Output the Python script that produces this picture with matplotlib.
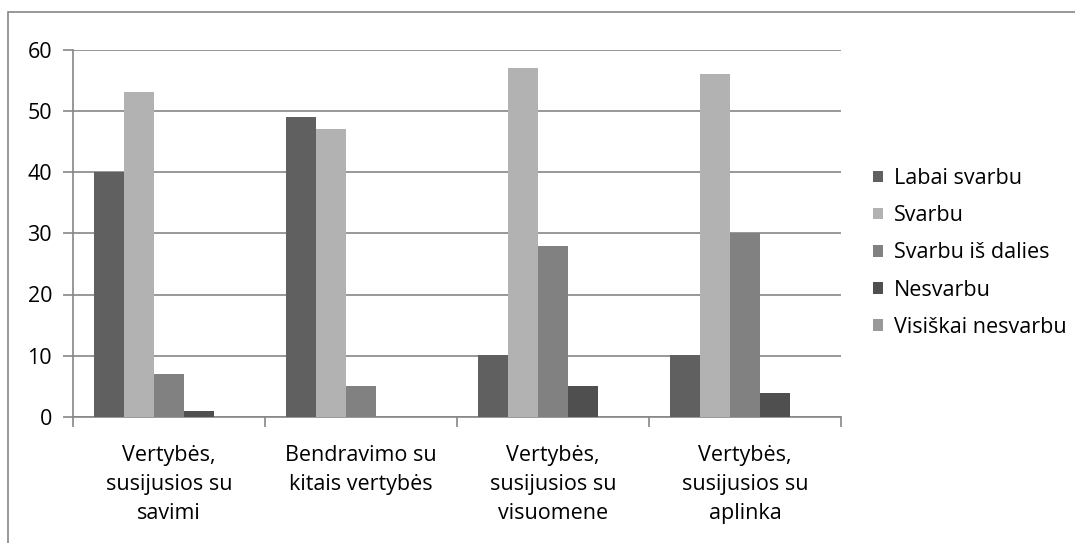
import matplotlib
matplotlib.use("Agg")
import matplotlib.pyplot as plt
from matplotlib.patches import Rectangle
import numpy as np

plt.rcParams['font.family'] = ['Open Sans', 'DejaVu Sans']

categories = ["Vertybės,\nsusijusios su\nsavimi",
              "Bendravimo su\nkitais vertybės",
              "Vertybės,\nsusijusios su\nvisuomene",
              "Vertybės,\nsusijusios su\naplinka"]
series_names = ["Labai svarbu", "Svarbu", "Svarbu iš dalies", "Nesvarbu", "Visiškai nesvarbu"]
labai_svarbu = [40, 49, 10.2, 10.2]
svarbu = [53, 47, 57, 56]
svarbu_is_dalies = [7, 5, 28, 30]
nesvarbu = [1, 0, 5, 4]
visiskai_nesvarbu = [0, 0, 0, 0]
colors = ["#606060", "#b2b2b2", "#818181", "#4f4f4f", "#999999"]
yticks = [0, 10, 20, 30, 40, 50, 60]

data = [labai_svarbu, svarbu, svarbu_is_dalies, nesvarbu, visiskai_nesvarbu]

fs = 15.5
fig = plt.figure(figsize=(10.75, 5.43), dpi=100)
ax = fig.add_axes([73/1075, 1-417/543, (841-73)/1075, (417-49.5)/543])

# outer chart border
fig.patches.append(Rectangle((8/1075, -0.1), 1.2, 1-11.5/543+0.1, transform=fig.transFigure,
                             fill=False, edgecolor="#868686", linewidth=1.2))

x = np.arange(len(categories))
w = 0.156
for i, (vals, name, c) in enumerate(zip(data, series_names, colors)):
    ax.bar(x + (i - 2) * w, vals, width=w, color=c, label=name, zorder=3)

ax.set_xlim(-0.5, len(categories) - 0.5)
ax.set_ylim(0, 60)
ax.set_yticks(yticks)
ax.yaxis.grid(True, color="#868686", linewidth=1.2, zorder=0)
for s in ["top", "right"]:
    ax.spines[s].set_visible(False)
for s in ["left", "bottom"]:
    ax.spines[s].set_color("#868686")
    ax.spines[s].set_linewidth(1.2)
ax.tick_params(axis="y", length=7, width=1.2, color="#868686", pad=8, labelsize=fs, labelcolor="#000000")
ax.set_xticks(np.arange(-0.5, len(categories), 1.0), minor=False)
ax.set_xticklabels([])
ax.tick_params(axis="x", which="major", length=7, width=1.2, color="#868686", direction="out")
ax.set_xticks(x, minor=True)
ax.set_xticklabels(categories, minor=True, fontsize=fs, linespacing=1.5)
ax.tick_params(axis="x", which="minor", length=0, pad=20)

handles, labels = ax.get_legend_handles_labels()
leg = fig.legend(handles, labels, loc="center left", bbox_to_anchor=(854/1075, 1-253/543),
                 frameon=False, fontsize=fs, handlelength=0.45, handleheight=0.45,
                 handletextpad=0.5, labelspacing=0.75)

fig.savefig("out.png", dpi=100)
